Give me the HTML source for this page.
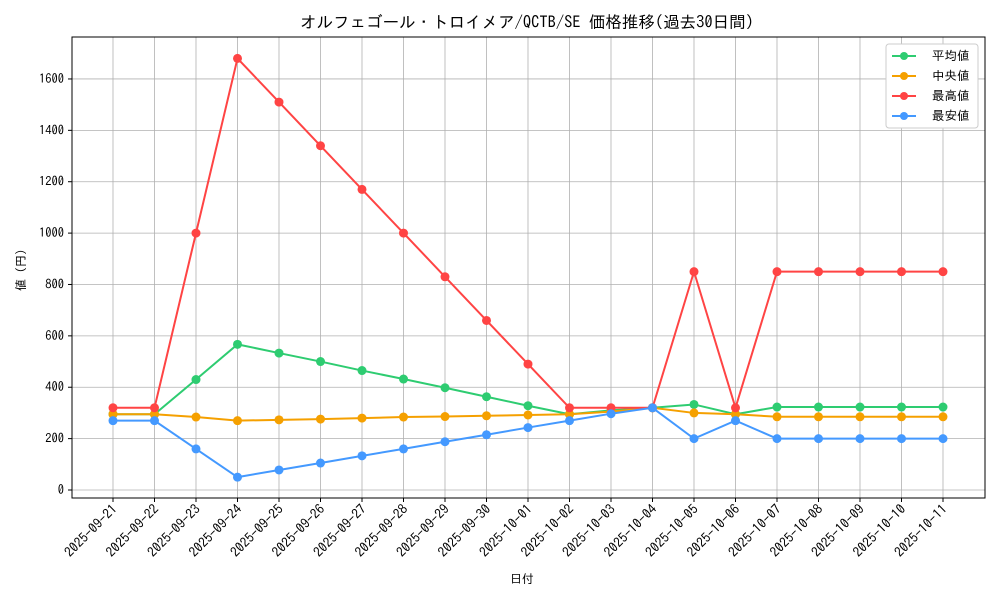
<!DOCTYPE html>
<html><head><meta charset="utf-8"><style>
body{margin:0;background:#fff}
svg text{font-family:"IPAGothic","Noto Sans CJK JP",monospace;fill:#000}
</style></head><body>
<svg width="1000" height="600" xmlns="http://www.w3.org/2000/svg">
<rect width="1000" height="600" fill="#fff"/>
<text x="527" y="28" font-size="16.5" text-anchor="middle">オルフェゴール・トロイメア/QCTB/SE 価格推移(過去30日間)</text>
<g id="g"></g>
<rect x="72" y="37" width="913" height="461" fill="none" stroke="#000" stroke-width="1"/>
<text x="522" y="583" font-size="12" text-anchor="middle">日付</text>
<text transform="translate(25,270) rotate(-90)" font-size="12" text-anchor="middle">値 (円)</text>
<g transform="translate(886,44)">
<rect x="0" y="0" width="92" height="84" fill="#fff" stroke="#ccc" rx="3"/>
<line x1="6" y1="12" x2="30" y2="12" stroke="#2ecc71" stroke-width="2"/><circle cx="18" cy="12" r="4" fill="#2ecc71"/><text x="46" y="16" font-size="12.5">平均値</text>
<line x1="6" y1="32" x2="30" y2="32" stroke="#f5a000" stroke-width="2"/><circle cx="18" cy="32" r="4" fill="#f5a000"/><text x="46" y="36" font-size="12.5">中央値</text>
<line x1="6" y1="52" x2="30" y2="52" stroke="#ff4444" stroke-width="2"/><circle cx="18" cy="52" r="4" fill="#ff4444"/><text x="46" y="56" font-size="12.5">最高値</text>
<line x1="6" y1="72" x2="30" y2="72" stroke="#4499ff" stroke-width="2"/><circle cx="18" cy="72" r="4" fill="#4499ff"/><text x="46" y="76" font-size="12.5">最安値</text>
</g>
</svg>
<script>
const g=document.getElementById('g');
const X=i=>113+i*41.5,Y=v=>490-v*0.2569;
let h='';
for(let v=0;v<=1600;v+=200){h+=`<line x1="72" x2="985" y1="${Y(v)}" y2="${Y(v)}" stroke="#b0b0b0" stroke-width="0.8"/><line x1="68" x2="72" y1="${Y(v)}" y2="${Y(v)}" stroke="#000"/><text x="64" y="${Y(v)+4}" font-size="12.5" text-anchor="end">${v}</text>`;}
const d=[];for(let i=0;i<21;i++){const t=new Date(Date.UTC(2025,8,21+i));d.push(t.toISOString().slice(0,10));}
d.forEach((s,i)=>{h+=`<line y1="37" y2="498" x1="${X(i)}" x2="${X(i)}" stroke="#b0b0b0" stroke-width="0.8"/><line y1="498" y2="502" x1="${X(i)}" x2="${X(i)}" stroke="#000"/><text transform="translate(${X(i)+5},510) rotate(-45)" font-size="13.5" text-anchor="end">${s}</text>`;});
const S=[
["#2ecc71",[295,295,430,567,533,500,465,432,398,363,328,295,310,320,333,295,323,323,323,323,323]],
["#f5a000",[295,295,284,270,273,276,280,284,286,289,292,295,305,320,300,295,285,285,285,285,285]],
["#ff4444",[320,320,1000,1680,1510,1340,1170,1000,830,660,490,320,320,320,850,320,850,850,850,850,850]],
["#4499ff",[270,270,160,50,78,105,133,160,188,215,243,270,297,320,200,270,200,200,200,200,200]]];
S.forEach(([c,a])=>{h+=`<polyline fill="none" stroke="${c}" stroke-width="2" points="${a.map((v,i)=>X(i)+','+Y(v)).join(' ')}"/>`;a.forEach((v,i)=>h+=`<circle cx="${X(i)}" cy="${Y(v)}" r="4.5" fill="${c}"/>`);});
g.innerHTML=h;
</script>
</body></html>
